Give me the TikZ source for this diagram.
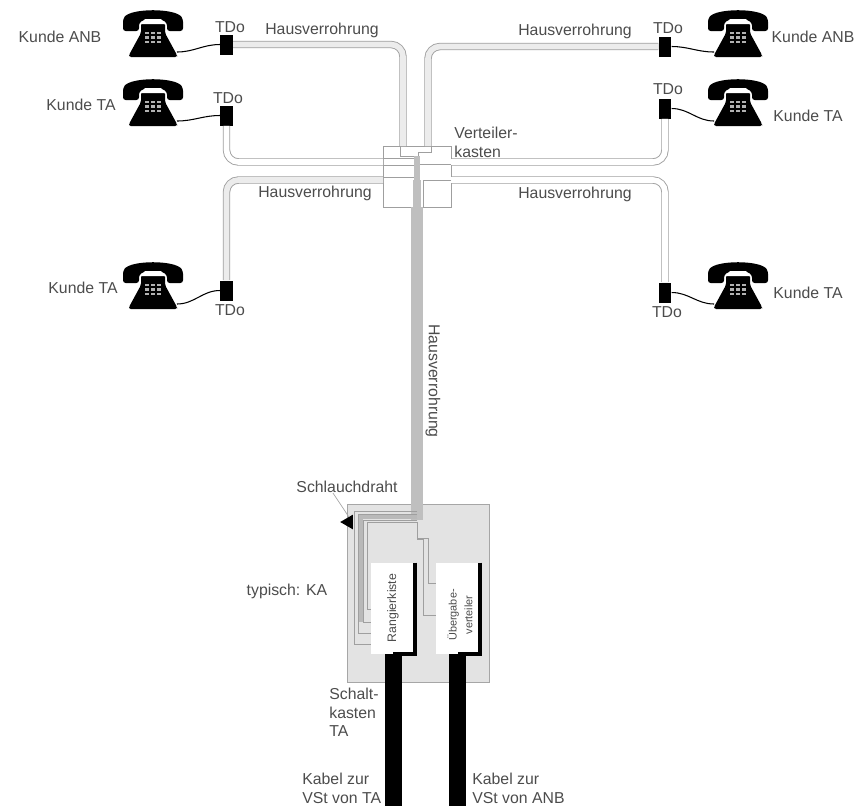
\documentclass[tikz,border=0pt]{standalone}
\usepackage{fontspec}
\setmainfont{Liberation Sans}
\usetikzlibrary{shapes.geometric}
\tikzset{
  lbl/.style={text=black!70, align=left, inner sep=0pt, font=\fontsize{9}{10.4}\selectfont},
  smalllbl/.style={text=black!70, align=center, inner sep=0pt, rotate=90, font=\fontsize{7}{9}\selectfont},
  tdobox/.style={fill=black, minimum width=0.25cm, minimum height=0.4cm, inner sep=0pt},
  cable/.style={draw=gray!75, line width=0.5pt, double=gray!15, double distance=3.2pt, rounded corners=0.24cm},
  thinline/.style={draw=gray!75, line width=0.5pt},
  cord/.style={draw=black, line width=0.6pt},
  blackcable/.style={draw=black, line width=9.4pt},
  trunk/.style={draw=gray!50, line width=6.8pt},
  phone/.pic={
    \fill[black, rounded corners=1pt] (-24,0) -- (24,0) -- (24,-2) -- (12,-24) -- (12,-34) -- (-12,-34) -- (-12,-24) -- (-24,-2) -- cycle;
    \fill[black, rounded corners=1.5pt] (-30,-26) -- (-30,-38) .. controls (-22,-49) and (22,-49) .. (30,-38) -- (30,-26) -- (14,-26) -- (14,-34) .. controls (7,-39) and (-7,-39) .. (-14,-34) -- (-14,-26) -- cycle;
    \fill[white] (-8,-38) -- (8,-38) -- (12,-33) -- (-12,-33) -- cycle;
    \foreach \i in {-6,0,6} \foreach \j in {-24,-19.5,-15} \fill[gray!60] (\i-1.8,\j-1.2) rectangle (\i+1.8,\j+1.2);
    \coordinate (-l) at (-24,-5);
    \coordinate (-r) at (24,-5);
  }
}
\begin{document}
\begin{tikzpicture}[x=0.02cm,y=-0.02cm]
\useasboundingbox (0,0) rectangle (858,806);
% Schaltkasten
\node[draw=gray!70, fill=gray!22, minimum width=2.84cm, minimum height=3.56cm, inner sep=0pt] (ka) at (418,593) {};
\node[fill=white, minimum width=0.88cm, minimum height=1.82cm, inner sep=0pt] (rk) at (393,608.5) {};
\node[fill=white, minimum width=0.88cm, minimum height=1.82cm, inner sep=0pt] (uv) at (458,608.5) {};
% Verteilerkasten
\node[thinline, draw, minimum width=1.36cm, minimum height=1.22cm, inner sep=0pt] (vk) at (417,176.5) {};
\coordinate (vka) at (403,146);
\coordinate (vkb) at (428,146);
\coordinate (vkc) at (383,162);
\coordinate (vkd) at (451,162);
\coordinate (vke) at (383,180);
\coordinate (vkf) at (451,180);
\coordinate (ja) at (417,207);
\coordinate (jb) at (417,520);
% Dosen
\node[tdobox] (tdoa) at (226.5,44.5) {};
\node[tdobox] (tdob) at (665,46.5) {};
\node[tdobox] (tdoc) at (226.5,115.5) {};
\node[tdobox] (tdod) at (665,108.5) {};
\node[tdobox] (tdoe) at (226.5,290.5) {};
\node[tdobox] (tdof) at (665,292.5) {};
% Telefone
\pic (tela) at (153,57) {phone};
\pic (telb) at (738,57) {phone};
\pic (telc) at (153,126) {phone};
\pic (teld) at (738,126) {phone};
\pic (tele) at (153,309) {phone};
\pic (telf) at (738,309) {phone};
\draw[cord] (tela-r) to[out=0,in=180] (tdoa.west);
\draw[cord] (telb-l) to[out=180,in=0] (tdob.east);
\draw[cord] (telc-r) to[out=0,in=180] (tdoc.west);
\draw[cord] (teld-l) to[out=180,in=0] (tdod.east);
\draw[cord] (tele-r) to[out=0,in=180] (tdoe.west);
\draw[cord] (telf-l) to[out=180,in=0] (tdof.east);
% Hausverrohrung
\draw[cable] (tdoa.east) -| (vka);
\draw[cable] (tdob.west) -| (vkb);
\draw[cable, double=white] (tdoc.south) |- (vkc);
\draw[cable, double=white] (tdod.south) |- (vkd);
\draw[cable] (tdoe.north) |- (vke);
\draw[cable, double=white] (tdof.north) |- (vkf);
\draw[thinline] (400,146) -- (400,156) -- (418,156) -- (418,152) -- (431,152) -- (431,146);
\draw[thinline] (383,158) -- (415,158);
\draw[thinline] (383,165) -- (415,165);
\draw[thinline] (383,177) -- (415,177);
\draw[thinline] (420,164) -- (451,164);
\draw[thinline] (451,180) -- (423,180) -- (423,207);
\draw[draw=gray!50, line width=3pt] (417,156) -- (417,180);
\draw[draw=gray!50, line width=5pt] (417,180) -- (417,207);
\draw[trunk] (ja) -- (jb);
% im Schaltkasten
\draw[draw=gray!55, line width=2.8pt] (417,517) -- (360.5,517) -- (360.5,622);
\draw[thinline] (417,511) -- (354,511) -- (354,644) -- (rk.west |- 0,644);
\draw[thinline] (417,514) -- (358,514) -- (358,633) -- (rk.west |- 0,633);
\draw[thinline] (417,520) -- (363,520) -- (363,622) -- (rk.west |- 0,622);
\draw[thinline] (417,522) -- (367,522) -- (367,609) -- (rk.west |- 0,609);
\draw[thinline] (417,522) -- (417,539) -- (423,539) -- (423,615) -- (uv.west |- 0,615);
\draw[thinline] (417,538) -- (428,538) -- (428,583) -- (uv.west |- 0,583);
\draw[black, line width=2.4pt] (rk.north east) -- (rk.south east) -- (rk.south);
\draw[black, line width=2.4pt] (uv.north east) -- (uv.south east) -- (uv.south);
\coordinate (kaba) at (393.5,806);
\coordinate (kabb) at (457.5,806);
\draw[blackcable] (393.5,654) -- (kaba);
\draw[blackcable] (457.5,654) -- (kabb);
% Texte
\node[lbl] (ta) at (60,37) {Kunde ANB};
\node[lbl] (tb) at (813,37) {Kunde ANB};
\node[lbl] (tc) at (81,105) {Kunde TA};
\node[lbl] (td) at (808,116) {Kunde TA};
\node[lbl] (te) at (83,288) {Kunde TA};
\node[lbl] (tf) at (808,293) {Kunde TA};
\node[lbl] (la) at (230,27) {TDo};
\node[lbl] (lb) at (668,28) {TDo};
\node[lbl] (lc) at (228,98) {TDo};
\node[lbl] (ld) at (668,89) {TDo};
\node[lbl] (le) at (230,310) {TDo};
\node[lbl] (lf) at (667,312) {TDo};
\node[lbl] (ha) at (322,30) {Hausverrohrung};
\node[lbl] (hb) at (575,31) {Hausverrohrung};
\node[lbl] (hc) at (315,193) {Hausverrohrung};
\node[lbl] (hd) at (575,194) {Hausverrohrung};
\node[lbl, rotate=-90] (he) at (433,381) {Hausverrohrung};
\node[lbl, anchor=north west] (vt) at (454,127) {Verteiler-\\kasten};
\node[lbl] (sd) at (347,487) {Schlauchdraht};
\node[lbl] (ty) at (287,591) {typisch: KA};
\node[smalllbl] (rt) at (393,608) {Rangierkiste};
\node[smalllbl, font=\fontsize{6.2}{9}\selectfont] (ut) at (460,615) {Übergabe-\\verteiler};
\node[lbl, anchor=north west] (sk) at (329,688) {Schalt-\\kasten\\TA};
\node[lbl, anchor=north west] (ka1) at (302,773) {Kabel zur\\VSt von TA};
\node[lbl, anchor=north west] (ka2) at (472,773) {Kabel zur\\VSt von ANB};
% Schlauchdraht Pfeil
\node[fill=black, regular polygon, regular polygon sides=3, shape border rotate=90, minimum size=0.34cm, inner sep=0pt] (tri) at (348.7,522) {};
\coordinate (sdb) at (333,493);
\draw[draw=gray!70, line width=0.4pt] (sdb) -- (tri.north);
\end{tikzpicture}
\end{document}
